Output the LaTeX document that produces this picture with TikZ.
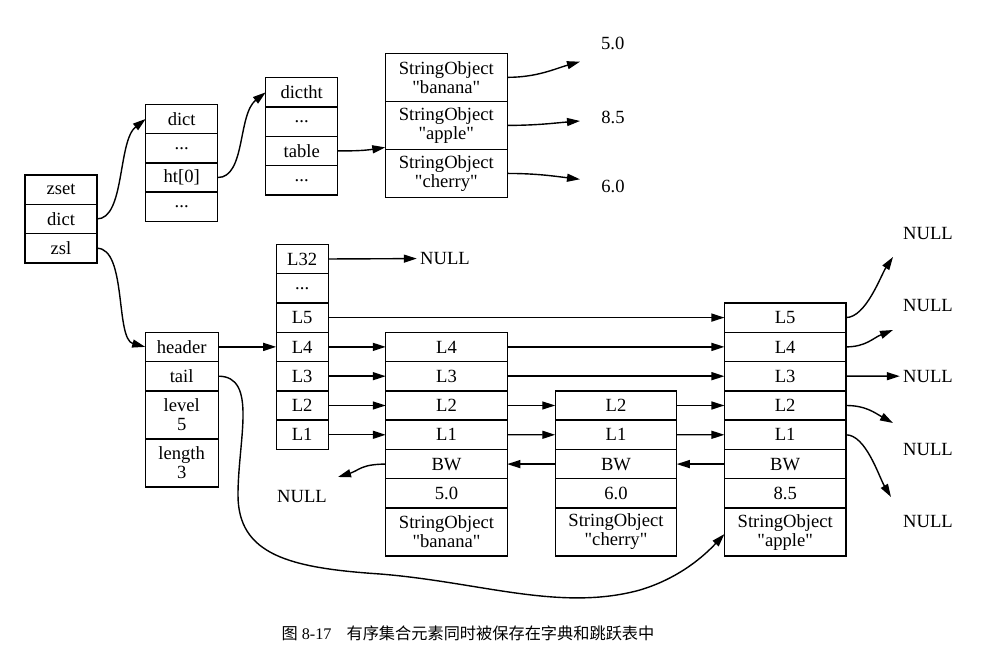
\documentclass[tikz,border=0pt]{standalone}
\usepackage{fontspec}
\setmainfont{Liberation Serif}
\newfontfamily\cjk{Noto Sans CJK SC}
\usetikzlibrary{arrows.meta,positioning}
\newcommand{\skipped}{...}
\newcommand{\quoted}[1]{\textquotedbl#1\textquotedbl}

\begin{document}
\begin{tikzpicture}[x=0.5pt, y=-0.5pt,
	font=\fontsize{9.3}{9.5}\selectfont,
	cell/.style={draw, line width=0.7pt, outer sep=0pt, inner sep=0pt, minimum height=14.65pt, align=center},
	tall/.style={cell, minimum height=24pt},
	ptr/.style={line width=0.7pt, -{Triangle[length=6.5pt,width=4pt]}},
	word/.style={inner sep=1.5pt}]

		\useasboundingbox (0,0) rectangle (993,672);

		% zset, dict, dictht
		\foreach \t/\n [count=\i] in {zset/zset, dict/zdict, zsl/zzsl}
		\node[cell, minimum width=36pt] (\n) at (61,160.35+29.3*\i) {\t};
		\foreach \t/\n [count=\i] in {dict/dhead, \skipped/da, ht[0]/dht, \skipped/db}
		\node[cell, minimum width=36pt] (\n) at (181.7,89.65+29.3*\i) {\t};
		\foreach \t/\n [count=\i] in {dictht/thead, \skipped/ta, table/ttable, \skipped/tb}
		\node[cell, minimum width=36pt] (\n) at (301.7,63.05+29.3*\i) {\t};
		\foreach \t/\n [count=\i] in {banana/ebanana, apple/eapple, cherry/echerry}
		\node[tall, minimum width=61pt] (\n) at (446.3,29.3+48.05*\i) {StringObject\\\quoted{\t}};

		\node (v50) at (612.7,43.3) {5.0};
		\node (v85) at (613,117.7) {8.5};
		\node (v60) at (613,186.7) {6.0};
		\coordinate (tv50) at (580,61.7);
		\coordinate (tv85) at (580,121);
		\coordinate (tv60) at (580,179.3);

		% skiplist header
		\node[cell, minimum width=36.5pt] (header) at (181.7,346.9) {header};
		\node[cell, minimum width=36.5pt, below=0pt of header] (tail) {tail};
		\node[tall, minimum width=36.5pt, below=0pt of tail] (level) {level\\5};
		\node[tall, minimum width=36.5pt, below=0pt of level] (length) {length\\3};

		\foreach \t/\n [count=\i] in {L32/h32, \skipped/hdots, L5/h5, L4/h4, L3/h3, L2/h2, L1/h1}
		\node[cell, minimum width=26pt] (\n) at (302.2,229.7+29.3*\i) {\t};

		% skiplist nodes
		\foreach \t/\n [count=\i] in {L4/b4, L3/b3, L2/b2, L1/b1, BW/bbw, 5.0/bscore}
		\node[cell, minimum width=60.75pt] (\n) at (446.5,317.6+29.3*\i) {\t};
		\node[tall, minimum width=60.75pt, below=0pt of bscore] (bobj) {StringObject\\\quoted{banana}};

		\foreach \t/\n [count=\i] in {L2/c2, L1/c1, BW/cbw, 6.0/cscore}
		\node[cell, minimum width=60.75pt] (\n) at (616,376.2+29.3*\i) {\t};
		\node[tall, minimum width=60.75pt, below=0pt of cscore] (cobj) {StringObject\\\quoted{cherry}};

		\foreach \t/\n [count=\i] in {L5/a5, L4/a4, L3/a3, L2/a2, L1/a1, BW/abw, 8.5/ascore}
		\node[cell, minimum width=60.75pt] (\n) at (785.2,288.3+29.3*\i) {\t};
		\node[tall, minimum width=60.75pt, below=0pt of ascore] (aobj) {StringObject\\\quoted{apple}};

		% NULLs
		\node[word] (n32) at (445,258.6) {NULL};
		\node[word] (nbw) at (302,497) {NULL};
		\foreach \n/\y in {n5/233.3, n4/306, n3/376.2, n2/449.3, n1/521.7}
		\node[word] (\n) at (928,\y) {NULL};
		\coordinate (t5) at (893,257);
		\coordinate (t4) at (893,330);
		\coordinate (t2) at (893,423);
		\coordinate (t1) at (891,497);
		\coordinate (tbw) at (338,477);

		% pointers
		\draw[ptr] (zdict.east) .. controls +(28,0) and +(-28,22) .. (dhead.west);
		\draw[ptr] (dht.east) .. controls +(28,0) and +(-28,22) .. (thead.west);
		\draw[ptr] (zzsl.east) .. controls +(30,0) and +(-30,-8) .. (header.west);
		\draw[ptr] (ttable.east) .. controls +(20,0) and +(-20,3) .. ([yshift=1pt]eapple.south west);
		\draw[ptr] (ebanana.east) .. controls +(30,0) and +(-25,7) .. (tv50);
		\draw[ptr] (eapple.east) .. controls +(30,0) and +(-25,2) .. (tv85);
		\draw[ptr] (echerry.east) .. controls +(30,0) and +(-25,-3) .. (tv60);

		\draw[ptr] (header.east) -- (h4.west);
		\draw[ptr] (h32.east) -- (n32.west);
		\draw[ptr] (h5.east) -- (a5.west);
		\foreach \a/\b in {h4/b4, h3/b3, h2/b2, h1/b1, b4/a4, b3/a3, b2/c2, b1/c1, c2/a2, c1/a1}
		\draw[ptr] (\a.east) -- (\b.west);
		\foreach \a/\b in {abw/cbw, cbw/bbw}
		\draw[ptr] (\a.west) -- (\b.east);
		\draw[ptr] (bbw.west) .. controls +(-25,0) and +(20,-6) .. (tbw);

		\draw[ptr] (a5.east) .. controls +(20,0) and +(-12,18) .. (t5);
		\draw[ptr] (a4.east) .. controls +(20,0) and +(-20,8) .. (t4);
		\draw[ptr] (a3.east) -- (n3.west);
		\draw[ptr] (a2.east) .. controls +(20,0) and +(-18,-10) .. (t2);
		\draw[ptr] (a1.east) .. controls +(20,0) and +(-12,-20) .. (t1);

		\draw[ptr] (tail.east) .. controls (258,376) and (238,440) .. (238,495)
			.. controls (238,555) and (290,568) .. (380,574)
			.. controls (480,582) and (560,612) .. (640,590)
			.. controls (680,578) and (705,555) .. ([yshift=-1pt]aobj.west);

		\node[font=\fontsize{8.1}{10}\selectfont] (caption) at (468,633)
			{{\cjk 图} 8-17\hspace{7.5pt}{\cjk 有序集合元素同时被保存在字典和跳跃表中}};

\end{tikzpicture}
\end{document}
